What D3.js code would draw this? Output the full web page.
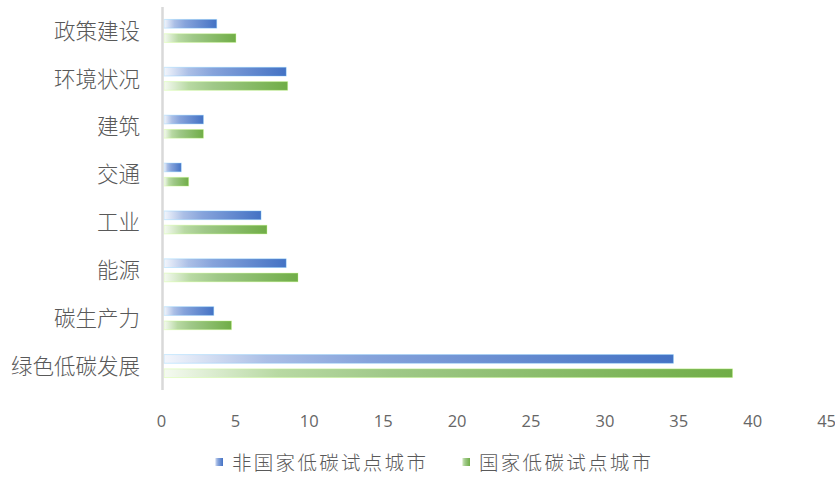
<!DOCTYPE html>
<html>
<head>
<meta charset="utf-8">
<script src="https://cdn.jsdelivr.net/npm/d3@7"></script>
<style>
  html, body { margin: 0; padding: 0; background: #fff; }
  svg { display: block; }
</style>
</head>
<body>
<svg id="chart" width="835" height="479"></svg>
<script>
// Indicator categories, top to bottom
const categories = ["政策建设", "环境状况", "建筑", "交通", "工业", "能源", "碳生产力", "绿色低碳发展"];
const seriesNames = ["非国家低碳试点城市", "国家低碳试点城市"];
const nonPilotValues = [3.6, 8.3, 2.7, 1.2, 6.6, 8.3, 3.4, 34.5];
const pilotValues = [4.9, 8.4, 2.7, 1.7, 7.0, 9.1, 4.6, 38.5];
const xTicks = [0, 5, 10, 15, 20, 25, 30, 35, 40, 45];

const seriesValues = [nonPilotValues, pilotValues];
const seriesColors = ["#4472c4", "#70ad47"];
const gradientStops = [
  [["0%", "#f3f6fc"], ["20%", "#abbfe6"], ["40%", "#86a3db"], ["100%", "#4472c4"]],
  [["0%", "#f5faf1"], ["20%", "#b8d9a3"], ["40%", "#9fc888"], ["100%", "#70ad47"]]
];

const svg = d3.select("#chart");
const textColor = "#595959";
const cjkFont = "'Noto Sans CJK SC', 'Noto Sans', sans-serif";

const x = d3.scaleLinear().domain([0, 45]).range([163.5, 163.5 + 45 * 14.78]);
const y0 = d3.scaleBand().domain(categories).range([7, 390]).padding(0);
const y1 = d3.scaleBand().domain(seriesNames)
  .range([y0.bandwidth() * 0.26, y0.bandwidth() * 0.74])
  .paddingInner(0.39).paddingOuter(0);

// Horizontal gradient fills, one per series
const defs = svg.append("defs");
seriesNames.forEach((name, i) => {
  const g = defs.append("linearGradient")
    .attr("id", "grad" + i)
    .attr("x1", "0%").attr("x2", "100%").attr("y1", "0%").attr("y2", "0%");
  gradientStops[i].forEach(([off, col]) => {
    g.append("stop").attr("offset", off).attr("stop-color", col);
  });
});

// Bars
const groups = svg.append("g").selectAll("g")
  .data(categories)
  .join("g")
  .attr("transform", d => `translate(0,${y0(d)})`);

groups.selectAll("rect")
  .data((d, ci) => seriesNames.map((s, si) => ({ s, si, v: seriesValues[si][ci] })))
  .join("rect")
  .attr("x", x(0) + 0.5)
  .attr("y", d => y1(d.s))
  .attr("width", d => x(d.v) - x(0) - 0.5)
  .attr("height", y1.bandwidth())
  .attr("fill", d => `url(#grad${d.si})`)
  .attr("stroke", d => d3.color(seriesColors[d.si]).brighter(1.6))
  .attr("stroke-opacity", 0.35)
  .attr("stroke-width", 1);

// Vertical category axis line
svg.append("line")
  .attr("x1", 162.5).attr("x2", 162.5)
  .attr("y1", 7).attr("y2", 390)
  .attr("stroke", "#d9d9d9")
  .attr("stroke-width", 2.5);

// Category labels
svg.append("g").selectAll("text")
  .data(categories)
  .join("text")
  .attr("x", 140)
  .attr("y", d => y0(d) + y0.bandwidth() / 2)
  .attr("dy", "0.36em")
  .attr("text-anchor", "end")
  .attr("font-family", cjkFont)
  .attr("font-weight", 300)
  .attr("font-size", 21.5)
  .attr("fill", textColor)
  .text(d => d);

// Value axis tick labels
svg.append("g").selectAll("text")
  .data(xTicks)
  .join("text")
  .attr("x", d => x(d) - 2)
  .attr("y", 427)
  .attr("text-anchor", "middle")
  .attr("font-family", "'Open Sans', 'Liberation Sans', sans-serif")
  .attr("font-size", 16.5)
  .attr("fill", "#666666")
  .text(d => d);

// Legend
const legendItems = [
  { name: seriesNames[0], sx: 215, tx: 232 },
  { name: seriesNames[1], sx: 462, tx: 479 }
];
const legend = svg.append("g");
legendItems.forEach((it, i) => {
  legend.append("rect")
    .attr("x", it.sx).attr("y", 458)
    .attr("width", 8).attr("height", 8)
    .attr("fill", `url(#grad${i})`);
  legend.append("text")
    .attr("x", it.tx).attr("y", 463)
    .attr("dy", "0.36em")
    .attr("font-family", cjkFont)
    .attr("font-weight", 300)
    .attr("font-size", 19.5)
    .attr("letter-spacing", 2.3)
    .attr("fill", textColor)
    .text(it.name);
});
</script>
</body>
</html>
